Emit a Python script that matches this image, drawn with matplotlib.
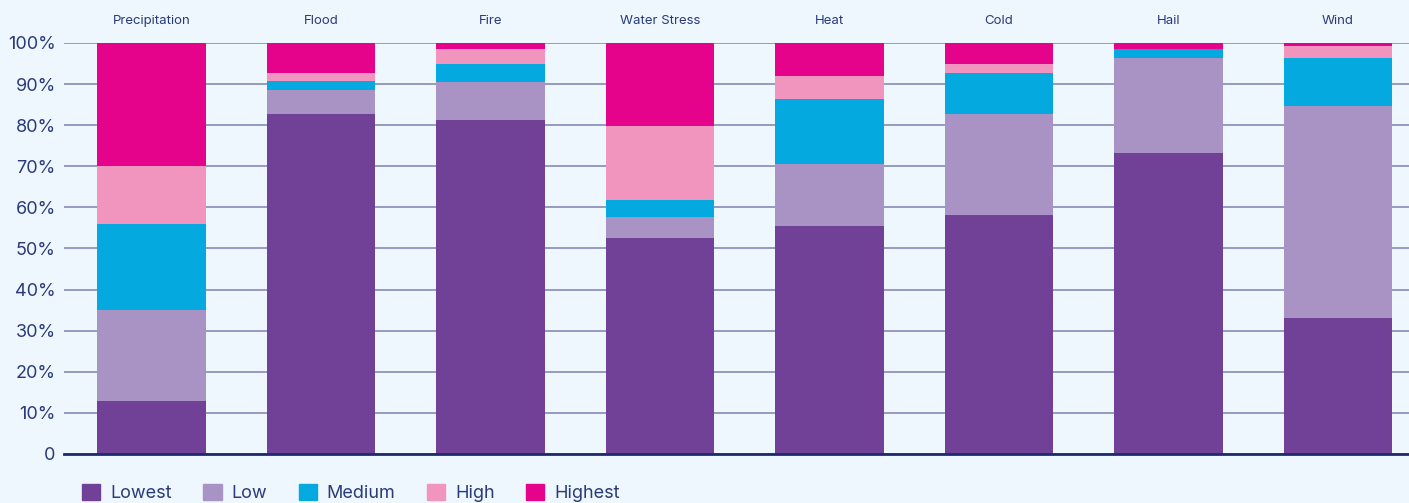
import matplotlib.pyplot as plt
import matplotlib.patches as mpatches
import numpy as np

plt.rcParams['font.family'] = ['Inter', 'DejaVu Sans']

hazards = ['Precipitation', 'Flood', 'Fire', 'Water Stress', 'Heat', 'Cold', 'Hail', 'Wind']
levels = ['Lowest', 'Low', 'Medium', 'High', 'Highest']

lowest = [13.0, 82.7, 81.3, 52.6, 55.5, 58.2, 73.2, 33.1]
low = [22.0, 5.9, 9.2, 5.1, 15.1, 24.5, 23.2, 51.6]
medium = [21.0, 2.2, 4.4, 4.1, 15.8, 10.0, 2.1, 11.7]
high = [14.0, 1.9, 3.6, 18.0, 5.6, 2.2, 0.0, 2.9]
highest = [30.0, 7.3, 1.5, 20.2, 8.0, 5.1, 1.5, 0.7]

colors = ['#704196', '#a993c4', '#04a9e0', '#f295be', '#e4038a']
bg = '#edf7fd'
navy = '#2b3a7a'

fig = plt.figure(figsize=(14.09, 5.03), dpi=100, facecolor=bg)
ax = fig.add_axes([64 / 1409, 49 / 503, 1345 / 1409, 411 / 503])
ax.set_facecolor(bg)

x = np.arange(len(hazards))
bottom = np.zeros(len(hazards))
for vals, c, name in zip([lowest, low, medium, high, highest], colors, levels):
    ax.bar(x, vals, width=0.64, bottom=bottom, color=c, label=name, zorder=2)
    bottom += np.array(vals)

ax.set_xlim(-0.515, 7.42)
ax.set_ylim(0, 100)
ax.set_yticks(np.arange(0, 101, 10))
ax.set_yticklabels(['0'] + [f'{v}%' for v in range(10, 101, 10)])
ax.tick_params(axis='y', length=0, pad=6, labelsize=13, labelcolor=navy)
ax.tick_params(axis='x', length=0, labelbottom=False)
ax.grid(axis='y', color='#8e93c0', linewidth=1.3, zorder=0)
for s in ['top', 'right', 'left']:
    ax.spines[s].set_visible(False)
ax.spines['bottom'].set_color('#1f2a6e')
ax.spines['bottom'].set_linewidth(2)
ax.spines['bottom'].set_zorder(3)

for xi, name in zip(x, hazards):
    ax.text(xi, 105.3, name, ha='center', va='center', fontsize=9.5, color=navy)

handles = [mpatches.Patch(color=c, label=n) for c, n in zip(colors, levels)]
fig.legend(handles=handles, loc='center left', bbox_to_anchor=(0.0495, 0.02), ncol=5,
           frameon=False, fontsize=13, handlelength=1.0, handleheight=1.0,
           columnspacing=1.75, handletextpad=0.55, labelcolor=navy,
           borderpad=0.2)

fig.savefig('out.png', dpi=100, facecolor=bg)
